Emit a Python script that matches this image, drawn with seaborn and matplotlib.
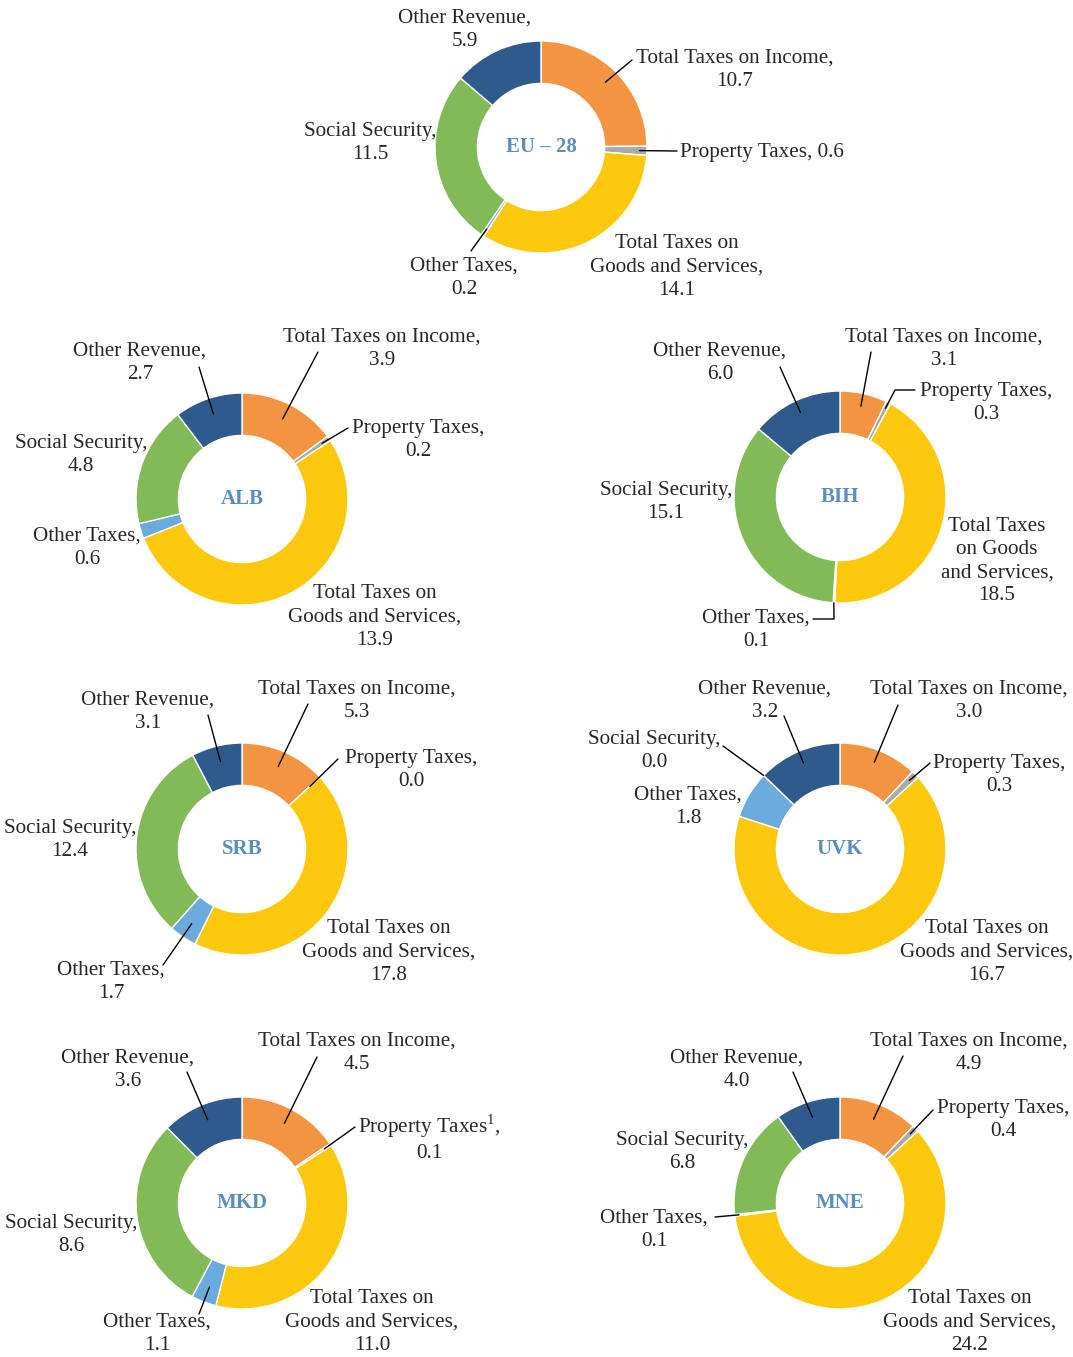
import numpy as np
import matplotlib
matplotlib.use("Agg")
import matplotlib.pyplot as plt
import seaborn as sns

# revenue structure, % of GDP
categories = ["Total Taxes on Income", "Property Taxes", "Total Taxes on Goods and Services",
              "Other Taxes", "Social Security", "Other Revenue"]
countries = ["EU – 28", "ALB", "BIH", "SRB", "UVK", "MKD", "MNE"]
eu28 = [10.7, 0.6, 14.1, 0.2, 11.5, 5.9]
alb = [3.9, 0.2, 13.9, 0.6, 4.8, 2.7]
bih = [3.1, 0.3, 18.5, 0.1, 15.1, 6.0]
srb = [5.3, 0.0, 17.8, 1.7, 12.4, 3.1]
uvk = [3.0, 0.3, 16.7, 1.8, 0.0, 3.2]
mkd = [4.5, 0.1, 11.0, 1.1, 8.6, 3.6]
mne = [4.9, 0.4, 24.2, 0.1, 6.8, 4.0]
values = [eu28, alb, bih, srb, uvk, mkd, mne]

colors = sns.color_palette(["#F39440", "#A9A9A9", "#FCC80B", "#6AAADC", "#82BA58", "#2E5A8C"])

# how each category name is broken over lines
wrapped = ["Total Taxes on Income", "Property Taxes", "Total Taxes on\nGoods and Services",
           "Other Taxes", "Social Security", "Other Revenue"]

# layout in pixels (y down): donut centre, then per slice: text centre, leader radius, leader path
R = 106
layout = {
    "EU – 28": dict(c=(541, 147), labels=[
        ((735, 70), 0.86, [(632, 60)]),
        ((762, 152), 0.93, [(677, 151)]),
        ((677, 267), None, None),
        ((464, 278), 0.93, [(471, 251)]),
        ((370, 143), None, None),
        ((465, 30), None, None)]),
    "ALB": dict(c=(242, 499), labels=[
        ((382, 349), 0.85, [(318, 352)]),
        ((418, 440), 0.92, [(348, 428)]),
        ((375, 617), None, None),
        ((87, 548), None, None),
        ((81, 455), None, None),
        ((140, 363), 0.85, [(199, 367)])]),
    "BIH": dict(c=(840, 497), labels=[
        ((944, 349), 0.88, [(871, 352)]),
        ((986, 403), 0.94, [(895, 390), (915, 390)]),
        ((997, 561), None, None),
        ((756, 630), 1.0, [(834, 619), (813, 619)]),
        ((666, 502), None, None),
        ((720, 363), 0.88, [(780, 367)])]),
    "SRB": dict(c=(242, 849), labels=[
        ((357, 701), 0.85, [(308, 704)]),
        ((411, 770), 0.87, [(338, 759)]),
        ((389, 952), None, None),
        ((111, 982), 0.85, [(163, 965)]),
        ((70, 840), None, None),
        ((148, 712), 0.85, [(208, 715)])]),
    "UVK": dict(c=(840, 849), labels=[
        ((969, 701), 0.88, [(898, 705)]),
        ((999, 775), 0.92, [(930, 763)]),
        ((987, 952), None, None),
        ((688, 807), None, None),
        ((654, 751), 1.0, [(723, 746)]),
        ((765, 701), 0.88, [(784, 716)])]),
    "MKD": dict(c=(242, 1203), labels=[
        ((357, 1053), 0.85, [(317, 1057)]),
        ((429, 1138), 0.93, [(355, 1127)]),
        ((372, 1322), None, None),
        ((157, 1334), 0.85, [(199, 1314)]),
        ((71, 1235), None, None),
        ((128, 1070), 0.85, [(187, 1072)])]),
    "MNE": dict(c=(840, 1203), labels=[
        ((969, 1053), 0.85, [(903, 1056)]),
        ((1003, 1120), 0.93, [(933, 1110)]),
        ((970, 1322), None, None),
        ((654, 1230), 0.96, [(715, 1217)]),
        ((682, 1152), None, None),
        ((737, 1070), 0.85, [(793, 1072)])]),
}
# label text exceptions
name_override = {("BIH", 2): "Total Taxes\non Goods\nand Services", ("MKD", 1): "Property Taxes$^{1}$"}
one_line = {("EU – 28", 1)}

sns.set_theme(style="white")
plt.rcParams["font.family"] = ["Liberation Serif", "DejaVu Serif"]
plt.rcParams["mathtext.fontset"] = "custom"
plt.rcParams["mathtext.rm"] = "Liberation Serif"

W, H = 1073, 1357
fig = plt.figure(figsize=(W / 100, H / 100), dpi=100)
ax = fig.add_axes([0, 0, 1, 1])

txt_color = "#262626"
for country, vals in zip(countries, values):
    lay = layout[country]
    cx, cy = lay["c"]
    # y axis is flipped, so counterclock in data = clockwise on screen
    ax.pie(vals, colors=colors, startangle=-90, counterclock=True, center=(cx, cy), radius=R,
           wedgeprops=dict(width=0.4 * R, edgecolor="white", linewidth=1))
    ax.text(cx, cy, country, ha="center", va="center", fontsize=15, fontweight="bold",
            color="#5A8DC0")
    v = np.array(vals)
    mids = (np.cumsum(v) - v / 2) / v.sum() * 2 * np.pi
    for i, (pos, rf, path) in enumerate(lay["labels"]):
        name = name_override.get((country, i), wrapped[i])
        sep = ", " if (country, i) in one_line else ",\n"
        ax.text(pos[0], pos[1], f"{name}{sep}{vals[i]:.1f}", ha="center", va="center",
                multialignment="center", fontsize=15.2, color=txt_color, linespacing=1.3)
        if path is not None:
            sx = cx + rf * R * np.sin(mids[i])
            sy = cy - rf * R * np.cos(mids[i])
            xs = [sx] + [p[0] for p in path]
            ys = [sy] + [p[1] for p in path]
            ax.plot(xs, ys, color="black", lw=1)

ax.set_xlim(0, W)
ax.set_ylim(H, 0)
ax.set_aspect("equal")
ax.axis("off")
fig.savefig("out.png", dpi=100, facecolor="white")
